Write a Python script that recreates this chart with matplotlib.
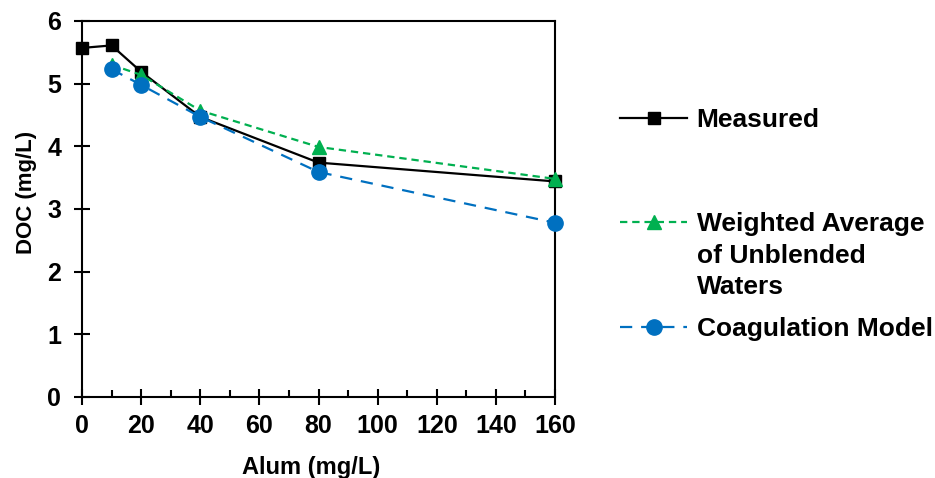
import matplotlib.pyplot as plt
from matplotlib.lines import Line2D
from matplotlib.ticker import MultipleLocator

plt.rcParams['font.family'] = ['Liberation Sans', 'DejaVu Sans']
plt.rcParams['font.weight'] = 'bold'

# Data
alum_measured = [0, 10, 20, 40, 80, 160]
doc_measured = [5.57, 5.61, 5.19, 4.47, 3.74, 3.44]

alum_model = [10, 20, 40, 80, 160]
doc_weighted = [5.30, 5.14, 4.57, 3.99, 3.48]
doc_coag = [5.23, 4.98, 4.47, 3.59, 2.78]

green = '#00B050'
blue = '#0070C0'

fig = plt.figure(figsize=(9.35, 4.78), dpi=100)
ax = fig.add_axes([0.0877, 0.1695, 0.5059, 0.7866])

h1, = ax.plot(alum_measured, doc_measured, color='black', lw=1.6,
              marker='s', ms=9, label='Measured', clip_on=False, zorder=3)
h2, = ax.plot(alum_model, doc_weighted, color=green, lw=1.6, ls=(0, (3.3, 2.2)),
              marker='^', ms=10.5, label='Weighted Average', clip_on=False, zorder=4)
h3, = ax.plot(alum_model, doc_coag, color=blue, lw=1.6, ls=(0, (5.5, 4)),
              marker='o', ms=11, label='Coagulation Model', clip_on=False, zorder=5)

ax.set_xlim(0, 160)
ax.set_ylim(0, 6)
ax.xaxis.set_major_locator(MultipleLocator(20))
ax.xaxis.set_minor_locator(MultipleLocator(10))
ax.yaxis.set_major_locator(MultipleLocator(1))

for s in ax.spines.values():
    s.set_linewidth(1.5)

ax.tick_params(axis='both', which='major', direction='inout', length=12, width=1.5,
               labelsize=18, pad=6)
ax.tick_params(axis='y', pad=9)
ax.tick_params(axis='x', which='minor', direction='in', length=5, width=1.5)

ax.set_xlabel('Alum (mg/L)', fontsize=17, fontweight='bold')
ax.set_ylabel('DOC (mg/L)', fontsize=16, fontweight='bold')
ax.xaxis.set_label_coords(0.484, -0.158)
ax.yaxis.set_label_coords(-0.095, 0.545)

# Legend, split into pieces to follow the original layout
blank = Line2D([], [], color='none')
leg_kw = dict(frameon=False, prop={'size': 19, 'weight': 'bold'}, handlelength=2.55,
              handletextpad=0.35, borderpad=0, borderaxespad=0, labelspacing=0.29)
leg1 = fig.legend(handles=[h1], labels=['Measured'], loc='center left',
                  bbox_to_anchor=(620 / 935, 1 - 120 / 478), **leg_kw)
leg2 = fig.legend(handles=[h2, blank, blank],
                  labels=['Weighted Average', 'of Unblended', 'Waters'],
                  loc='upper left', bbox_to_anchor=(620 / 935, 1 - 212 / 478), **leg_kw)
leg3 = fig.legend(handles=[h3], labels=['Coagulation Model'], loc='center left',
                  bbox_to_anchor=(620 / 935, 1 - 329 / 478), **leg_kw)

fig.savefig('out.png', dpi=100)
